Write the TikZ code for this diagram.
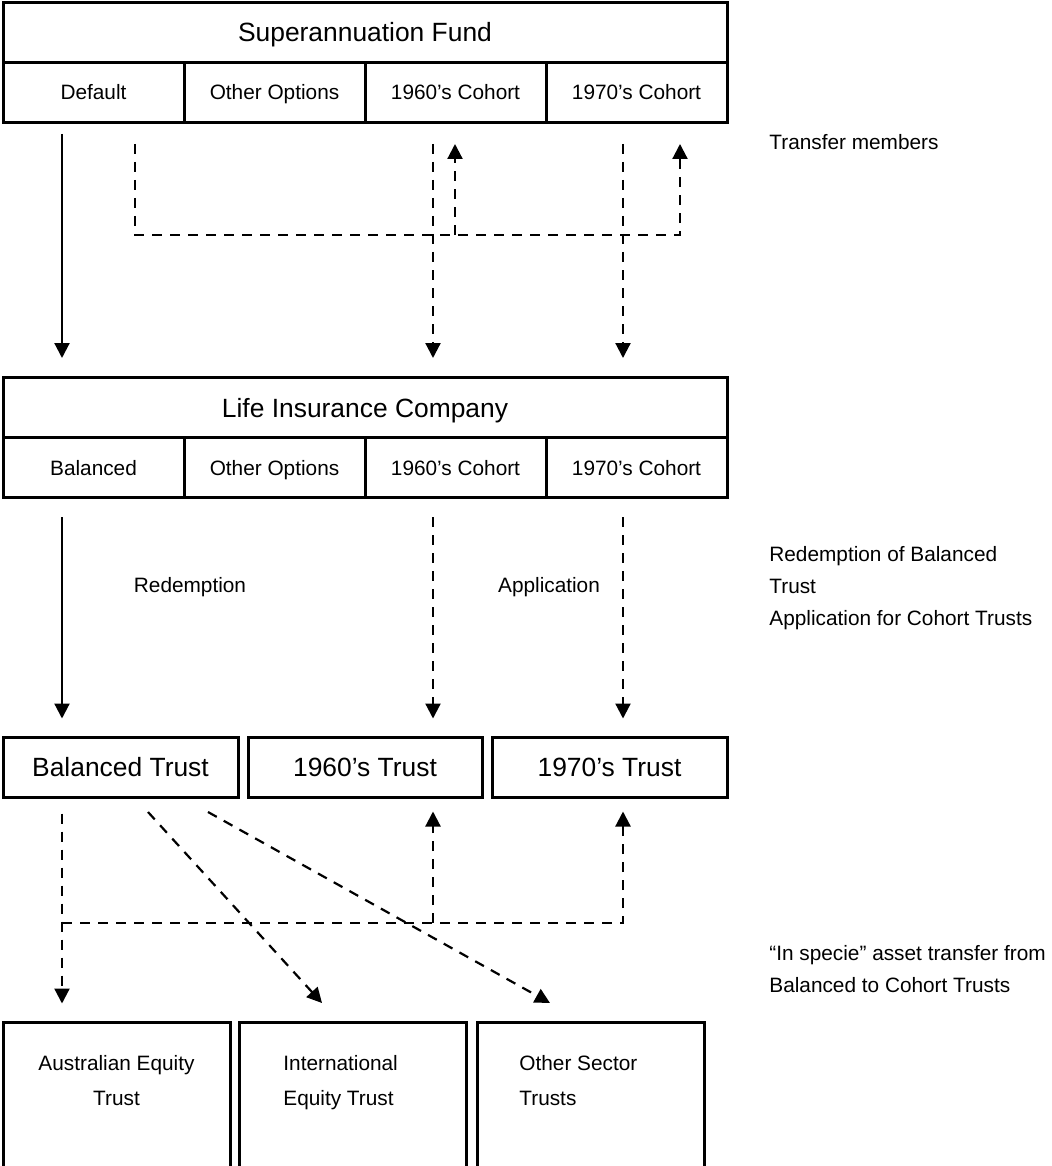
\documentclass[tikz,border=0pt]{standalone}
\usepackage{fontspec}
\setmainfont{Liberation Sans}
\usetikzlibrary{arrows.meta}
\tikzset{
  box/.style={draw=black, line width=1.5pt, inner sep=0pt,
    font=\fontsize{10.4}{17.5}\selectfont, text height=9pt, text depth=1.5pt},
  cell/.style={box, minimum width=90.5pt, minimum height=30pt},
  head/.style={box, minimum width=362pt, minimum height=30pt,
    font=\fontsize{13.2}{16}\selectfont, text height=11.5pt, text depth=2pt},
  trust/.style={box, minimum height=30pt, font=\fontsize{13.2}{16}\selectfont,
    text height=11.5pt, text depth=2pt},
  sector/.style={box, minimum width=113.5pt, minimum height=80pt},
  sectortext/.style={inner sep=0pt, align=center,
    font=\fontsize{10.4}{17.5}\selectfont},
  lbl/.style={inner sep=0pt, font=\fontsize{10.4}{16}\selectfont},
  note/.style={lbl, anchor=west, align=left},
  flow/.style={line width=1.1pt, -{Triangle[length=7.5pt,width=7.5pt]}},
  dflow/.style={flow, dash pattern=on 5pt off 4pt}
}

\begin{document}
\begin{tikzpicture}[x=0.5pt, y=-0.5pt]
  \useasboundingbox (0,0) rectangle (1051,1166);
  \clip (0,0) rectangle (1051,1166);
  % fund and life company, four options each
  \node[head] (sf) at (365,32.5) {Superannuation Fund};
  \node[head] (lic) at (365,407.5) {Life Insurance Company};
  \foreach \i/\a/\b in {1/Default/Balanced, 2/Other Options/Other Options,
      3/1960’s Cohort/1960’s Cohort, 4/1970’s Cohort/1970’s Cohort} {
    \node[cell] (sf\i) at (181*\i-87.5,92.5) {\a};
    \node[cell] (lic\i) at (181*\i-87.5,467.5) {\b};
  }
  % unit trusts
  \node[trust, minimum width=117.5pt] (bal) at (120.5,767) {Balanced Trust};
  \node[trust, minimum width=117pt] (t60) at (365,767) {1960’s Trust};
  \node[trust, minimum width=117.5pt] (t70) at (609.5,767) {1970’s Trust};
  % sector trusts, running off the bottom
  \node[sector] (aus) at (116.5,1102) {};
  \node[sector] (intl) at (353,1102) {};
  \node[sector] (oth) at (590.5,1102) {};
  \node[sectortext] (ausTxt) at (116.5,1080.5) {\strut Australian Equity\\\strut Trust};
  \node[sectortext, anchor=west, align=left] (intlTxt) at (283,1080.5) {\strut International\\\strut Equity Trust};
  \node[sectortext, anchor=west, align=left] (othTxt) at (519,1080.5) {\strut Other Sector\\\strut Trusts};

  \coordinate (xa) at (62,0);
  \coordinate (xb) at (135,0);
  \coordinate (x60) at (433,0);
  \coordinate (u60) at (455,0);
  \coordinate (x70) at (623,0);
  \coordinate (u70) at (680,0);
  \coordinate (tm) at (0,235);
  \coordinate (sp) at (0,923);
  \coordinate (d1s) at (148,812);
  \coordinate (d1e) at (322,1003);
  \coordinate (d2s) at (208,812);
  \coordinate (d2e) at (550,1003);

  % transfer members
  \draw[flow, shorten <=5pt, shorten >=9pt] (sf1.south -| xa) -- (lic.north -| xa);
  \draw[dflow, shorten <=10pt, shorten >=10pt] (sf1.south -| xb) -- (xb |- tm) -- (u70 |- tm) -- (sf4.south -| u70);
  \draw[dflow, shorten >=10pt] (u60 |- tm) -- (sf3.south -| u60);
  \foreach \x/\c in {x60/3, x70/4}
    \draw[dflow, shorten <=10pt, shorten >=9pt] (sf\c.south -| \x) -- (lic.north -| \x);

  % redemption and application
  \draw[flow, shorten <=9pt, shorten >=8.5pt] (lic1.south -| xa) -- (bal.north -| xa);
  \draw[dflow, shorten <=9pt, shorten >=8.5pt] (lic3.south -| x60) -- (t60.north -| x60);
  \draw[dflow, shorten <=9pt, shorten >=8.5pt] (lic4.south -| x70) -- (t70.north -| x70);
  \node[lbl] (redLbl) at (190,587) {Redemption};
  \node[lbl] (appLbl) at (549,587) {Application};

  % in specie transfer
  \draw[dflow, shorten <=7.5pt, shorten >=8.5pt] (bal.south -| xa) -- (aus.north -| xa);
  \draw[dflow, shorten >=6.5pt] (xa |- sp) -- (x70 |- sp) -- (t70.south -| x70);
  \draw[dflow, shorten >=6.5pt] (x60 |- sp) -- (t60.south -| x60);
  \draw[dflow] (d1s) -- (d1e);
  \draw[dflow] (d2s) -- (d2e);

  % notes on the right
  \node[note] (tmNote) at (769,142) {Transfer members};
  \node[note] (raNote) at (769,588) {Redemption of Balanced\\Trust\\Application for Cohort Trusts};
  \node[note] (isNote) at (769,969) {“In specie” asset transfer from\\Balanced to Cohort Trusts};
\end{tikzpicture}
\end{document}
